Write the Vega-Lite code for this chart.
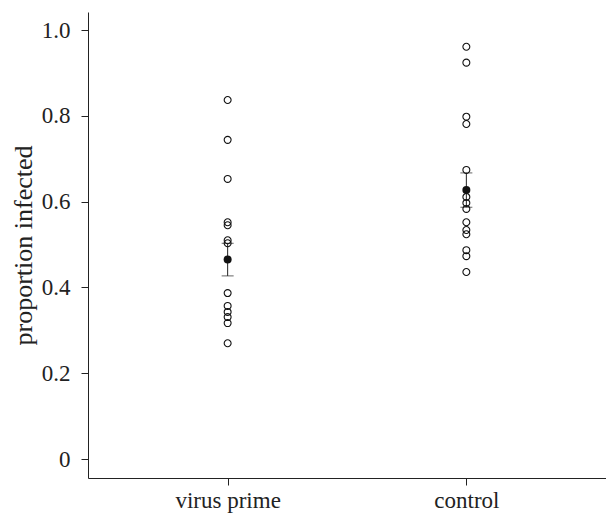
{
  "$schema": "https://vega.github.io/schema/vega-lite/v6.json",
  "width": 518,
  "height": 466,
  "autosize": {"type": "none"},
  "padding": {"left": 88, "top": 12, "right": 0, "bottom": 35},
  "background": "white",
  "config": {
    "view": {"stroke": null},
    "font": "Liberation Serif",
    "axis": {
      "grid": false,
      "domainColor": "#222",
      "tickColor": "#222",
      "labelColor": "#222",
      "titleColor": "#222",
      "labelFont": "Liberation Serif",
      "titleFont": "Liberation Serif",
      "labelFontSize": 23,
      "titleFontSize": 26,
      "titleFontWeight": "normal",
      "tickSize": 7,
      "domainWidth": 1,
      "tickWidth": 1
    }
  },
  "datasets": {
    "pts": [
      {"group": "virus prime", "value": 0.837},
      {"group": "virus prime", "value": 0.744},
      {"group": "virus prime", "value": 0.653},
      {"group": "virus prime", "value": 0.552},
      {"group": "virus prime", "value": 0.545},
      {"group": "virus prime", "value": 0.510},
      {"group": "virus prime", "value": 0.503},
      {"group": "virus prime", "value": 0.387},
      {"group": "virus prime", "value": 0.357},
      {"group": "virus prime", "value": 0.343},
      {"group": "virus prime", "value": 0.331},
      {"group": "virus prime", "value": 0.317},
      {"group": "virus prime", "value": 0.270},
      {"group": "control", "value": 0.961},
      {"group": "control", "value": 0.924},
      {"group": "control", "value": 0.798},
      {"group": "control", "value": 0.781},
      {"group": "control", "value": 0.674},
      {"group": "control", "value": 0.611},
      {"group": "control", "value": 0.597},
      {"group": "control", "value": 0.583},
      {"group": "control", "value": 0.552},
      {"group": "control", "value": 0.534},
      {"group": "control", "value": 0.524},
      {"group": "control", "value": 0.487},
      {"group": "control", "value": 0.473},
      {"group": "control", "value": 0.436}
    ],
    "means": [
      {"group": "virus prime", "mean": 0.465, "lo": 0.427, "hi": 0.503},
      {"group": "control", "mean": 0.627, "lo": 0.587, "hi": 0.667}
    ]
  },
  "encoding": {
    "x": {
      "field": "group",
      "type": "nominal",
      "scale": {"type": "point", "domain": ["virus prime", "control"], "padding": 0.585},
      "axis": {"title": null, "labelAngle": 0, "labelPadding": 4}
    }
  },
  "layer": [
    {
      "data": {"name": "means"},
      "mark": {"type": "rule", "color": "#222", "strokeWidth": 1},
      "encoding": {
        "y": {"field": "lo", "type": "quantitative", "scale": {"domain": [-0.044, 1.042], "nice": false, "zero": false},
          "axis": {"title": "proportion infected", "values": [0, 0.2, 0.4, 0.6, 0.8, 1.0],
            "labelExpr": "datum.value == 0 ? '0' : format(datum.value, '.1f')", "labelPadding": 11, "titlePadding": 5}},
        "y2": {"field": "hi"}
      }
    },
    {
      "data": {"name": "means"},
      "mark": {"type": "tick", "orient": "horizontal", "color": "#222", "size": 12, "thickness": 1},
      "encoding": {"y": {"field": "lo", "type": "quantitative"}}
    },
    {
      "data": {"name": "means"},
      "mark": {"type": "tick", "orient": "horizontal", "color": "#222", "size": 12, "thickness": 1},
      "encoding": {"y": {"field": "hi", "type": "quantitative"}}
    },
    {
      "data": {"name": "pts"},
      "mark": {"type": "point", "filled": false, "stroke": "#111", "strokeWidth": 1.1, "size": 48, "opacity": 1},
      "encoding": {"y": {"field": "value", "type": "quantitative"}}
    },
    {
      "data": {"name": "means"},
      "mark": {"type": "point", "filled": true, "color": "#111", "size": 64, "opacity": 1},
      "encoding": {"y": {"field": "mean", "type": "quantitative"}}
    }
  ]
}
